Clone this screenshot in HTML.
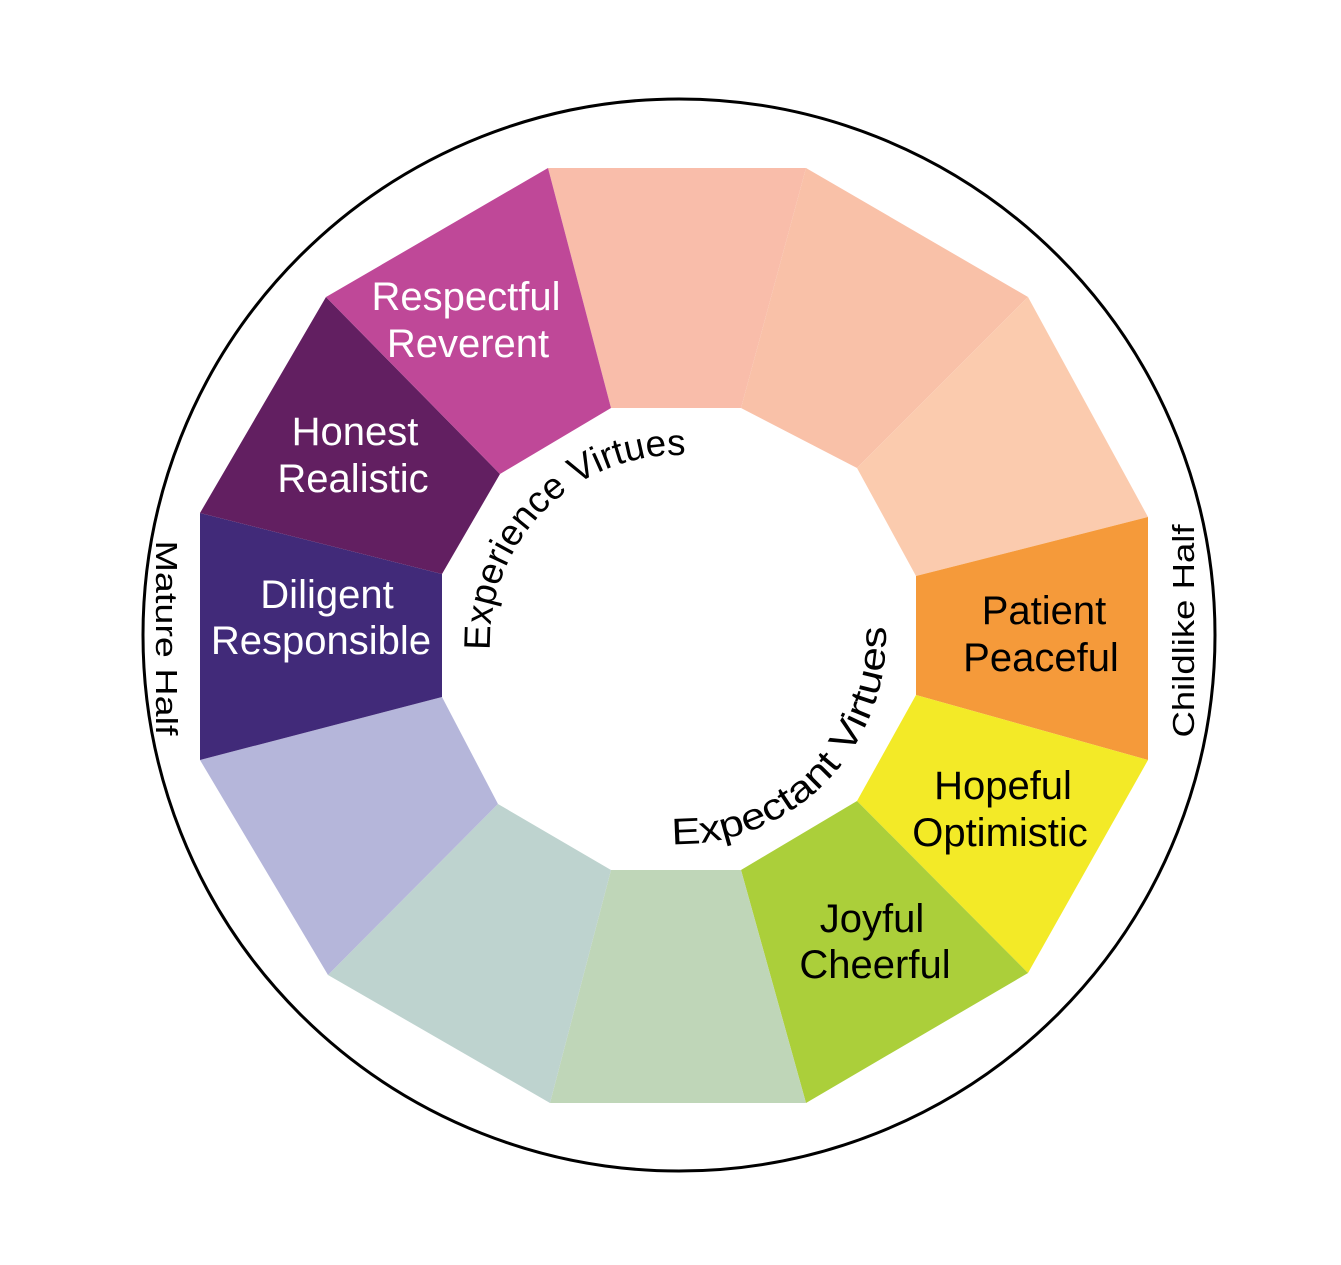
<!DOCTYPE html>
<html><head><meta charset="utf-8"><style>
html,body{margin:0;padding:0;background:#fff;}
svg{display:block;}
text{font-family:"Liberation Sans",sans-serif;}
</style></head><body>
<svg width="1341" height="1265" viewBox="0 0 1341 1265" xmlns="http://www.w3.org/2000/svg">
<circle cx="679" cy="635" r="536" fill="none" stroke="#000" stroke-width="3"/>
<polygon points="548,168 806,168 741,408 611,408" fill="#f9bdaa"/>
<polygon points="806,168 1028,297 857,468 741,408" fill="#f9c1a8"/>
<polygon points="1028,297 1148,517 916,576 857,468" fill="#fbcbae"/>
<polygon points="1148,517 1148,760 916,695 916,576" fill="#f59a3a"/>
<polygon points="1148,760 1028,973 857,801 916,695" fill="#f3ea27"/>
<polygon points="1028,973 806,1103 741,870 857,801" fill="#abcf3a"/>
<polygon points="806,1103 550,1103 611,870 741,870" fill="#bfd6b8"/>
<polygon points="550,1103 328,975 498,804 611,870" fill="#bed3cf"/>
<polygon points="328,975 200,760 442,697 498,804" fill="#b5b6da"/>
<polygon points="200,760 200,513 442,574 442,697" fill="#412a79"/>
<polygon points="200,513 326,297 500,474 442,574" fill="#621f61"/>
<polygon points="326,297 548,168 611,408 500,474" fill="#bf4898"/>
<g font-size="40" fill="#fff" text-anchor="middle">
<text x="466" y="310">Respectful</text><text x="468" y="357">Reverent</text>
<text x="355" y="445">Honest</text><text x="353" y="492">Realistic</text>
<text x="327" y="608">Diligent</text><text x="321" y="654">Responsible</text>
</g>
<g font-size="40" fill="#000" text-anchor="middle">
<text x="1044" y="624">Patient</text><text x="1041" y="671">Peaceful</text>
<text x="1003" y="799">Hopeful</text><text x="1000" y="846">Optimistic</text>
<text x="872" y="932">Joyful</text><text x="875" y="978">Cheerful</text>
</g>
<defs>
<path id="a1" d="M 490 650 A 188 188 0 0 1 866 636"/>
<path id="a2" d="M 672 844 A 208 208 0 0 0 886 636 A 208 208 0 0 0 678 428"/>
</defs>
<text font-size="37" fill="#000"><textPath href="#a1" textLength="310" lengthAdjust="spacingAndGlyphs">Experience Virtues</textPath></text>
<text font-size="37" fill="#000"><textPath href="#a2" textLength="342" lengthAdjust="spacingAndGlyphs">Expectant Virtues</textPath></text>
<text font-size="31" fill="#000" text-anchor="middle" textLength="195" lengthAdjust="spacingAndGlyphs" transform="translate(156,638) rotate(90)">Mature Half</text>
<text font-size="31" fill="#000" text-anchor="middle" textLength="213" lengthAdjust="spacingAndGlyphs" transform="translate(1194,631) rotate(-90)">Childlike Half</text>
</svg>
</body></html>
